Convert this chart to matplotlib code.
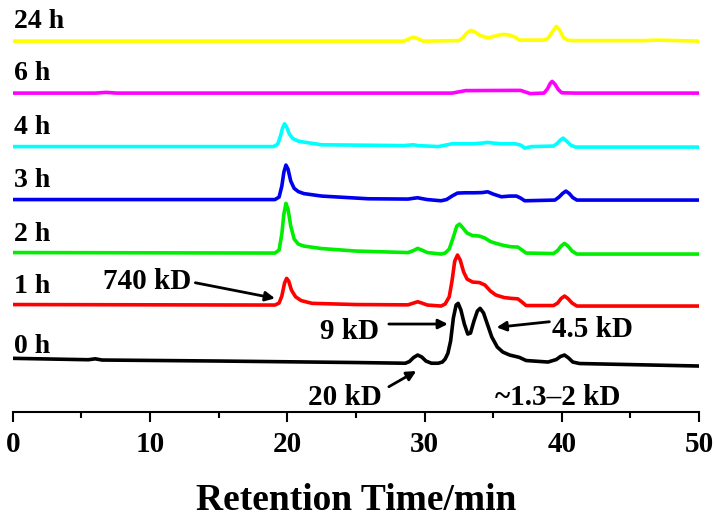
import matplotlib
matplotlib.use("Agg")
import matplotlib.pyplot as plt

# trace labels, colours and baseline offsets (stacked chromatograms)
labels = ["0 h", "1 h", "2 h", "3 h", "4 h", "6 h", "24 h"]
colors = ["#000000", "#ff0000", "#00ee00", "#0000ee", "#00ffff", "#ff00ff", "#ffff00"]
offsets = [46, 106, 158, 212, 265, 319, 371]

# retention time (min) and signal above baseline (a.u.)
t_0h = [0, 5.5, 6.0, 6.5, 15, 25, 28.6, 28.9, 29.2, 29.5, 29.8, 30.1, 30.5, 31.0,
        31.3, 31.5, 31.7, 31.9, 32.1, 32.3, 32.45, 32.65, 32.9, 33.15, 33.35,
        33.6, 33.85, 34.05, 34.3, 34.6, 34.9, 35.3, 35.7, 36.2, 36.9, 37.4,
        39.0, 39.6, 39.9, 40.2, 40.5, 40.8, 41.3, 50]
s_0h = [7.7, 6.3, 7.2, 6.0, 5.0, 3.5, 2.8, 4.5, 8.5, 11, 9, 5, 2.8, 2.8,
        4, 7, 12.7, 25, 48, 61, 62.7, 56, 42, 32, 33,
        45, 55, 57.7, 53, 41, 29, 19, 14, 11, 8.7, 5.5,
        4, 6.5, 9.5, 11, 8, 4, 2.5, 0]

t_1h = [0, 19.1, 19.4, 19.6, 19.8, 19.95, 20.1, 20.3, 20.6, 21.0, 21.8, 25,
        28.8, 29.2, 29.5, 29.8, 30.2, 31.2, 31.5, 31.8, 32.0, 32.2, 32.4, 32.6,
        32.85, 33.1, 33.5, 34.0, 34.4, 34.8, 35.2, 35.8, 36.3, 36.8, 37.1,
        37.4, 39.4, 39.7, 39.95, 40.2, 40.45, 40.75, 41.1, 50]
s_1h = [1.5, 1.0, 3, 10, 23, 27.7, 25, 16, 9.3, 5.5, 2.7, 1.5,
        1.2, 3, 4.3, 3, 1.0, 0, 2, 9.3, 25, 45, 51, 46,
        34, 27, 24, 23.5, 21, 15, 11, 8.5, 7.7, 7.2, 4,
        0.5, 0.5, 3, 7.5, 10, 7.5, 3, 0, 0]

t_2h = [0, 19.1, 19.4, 19.6, 19.75, 19.9, 20.05, 20.25, 20.5, 20.8, 21.2, 22.5,
        25, 28.8, 29.2, 29.5, 29.8, 30.2, 31.2, 31.5, 31.8, 32.1, 32.35, 32.55,
        32.8, 33.1, 33.5, 34.0, 34.4, 34.8, 35.2, 35.8, 36.3, 36.8, 37.1, 37.4,
        39.4, 39.7, 39.95, 40.2, 40.45, 40.75, 41.1, 50]
s_2h = [1.5, 1.0, 4, 20, 40, 50.7, 45, 28, 15, 10, 8, 5.5,
        3, 1.5, 3.5, 5.7, 4, 1.5, 0, 1, 5, 17, 28, 30,
        26, 21, 18.5, 18, 16, 12.5, 10.7, 8.5, 7.3, 7.0, 4,
        1.0, 0.5, 3.5, 8, 10.7, 8, 3, 0, 0]

t_3h = [0, 19.1, 19.4, 19.6, 19.75, 19.9, 20.05, 20.25, 20.5, 20.8, 21.2, 22.5,
        25.9, 28.8, 29.2, 29.5, 29.8, 30.2, 31.2, 31.6, 32.0, 32.4, 33.0, 33.6,
        34.2, 34.6, 35.0, 35.6, 36.2, 36.7, 37.0, 37.3, 39.5, 39.8, 40.05,
        40.3, 40.55, 40.8, 41.1, 50]
s_3h = [0.5, 0.5, 3, 14, 28, 35, 31, 19, 11.7, 8.5, 6.5, 4,
        1.3, 1.0, 1.8, 2.3, 1.5, 0.5, -0.7, 0.5, 4, 7, 7.3, 7.3,
        7.5, 8.3, 6, 3.3, 4, 4, 2, -0.7, 0, 3, 6.5,
        9, 6.5, 2.5, 0, 0]

t_4h = [0, 19.0, 19.3, 19.5, 19.65, 19.8, 19.95, 20.15, 20.4, 20.8, 21.2, 22.5,
        28.5, 28.9, 29.2, 29.5, 31.0, 32.0, 33.5, 34.2, 34.6, 35.0, 35.6, 36.6,
        37.0, 37.3, 37.8, 39.4, 39.65, 39.9, 40.1, 40.35, 40.65, 41.0, 50]
s_4h = [0.5, 0.5, 3, 11, 19, 23.3, 20, 13, 8.5, 6, 5, 2.3,
        1.5, 2, 2.3, 1.5, 0.5, 3.3, 3.3, 4.0, 4.7, 4.0, 3.3, 3.3,
        2, -1, 0.5, 1, 3.5, 7, 9, 6, 2, 0, 0]

t_6h = [0, 6.0, 6.8, 7.6, 20, 30, 32, 33, 36.5, 37.0, 37.7, 38.7, 38.95, 39.15,
        39.3, 39.5, 39.75, 40.0, 41.0, 50]
s_6h = [0, 0, 0.7, 0, 0, 0, 0, 2.5, 2.7, 2.7, -0.5, 0, 4, 9.5,
        11.7, 9, 3.5, 0.3, 0, 0]

t_24h = [0, 15, 28.5, 28.9, 29.2, 29.5, 29.9, 32.5, 32.8, 33.1, 33.4, 33.7,
         34.0, 34.3, 34.65, 35.0, 35.4, 35.76, 36.2, 36.6, 36.9, 38.7, 39.0,
         39.3, 39.6, 39.85, 40.1, 40.4, 40.7, 46, 47, 50]
s_24h = [0, 0, 0, 2.5, 4, 2.5, 0, 0.5, 3.5, 8.5, 10.7, 9,
         6, 4.5, 3.3, 4.5, 6, 6.7, 6, 4, 1, 1, 3,
         9, 14.7, 11, 4, 1, 0.5, 0.5, 1, 0]

times = [t_0h, t_1h, t_2h, t_3h, t_4h, t_6h, t_24h]
signals = [s_0h, s_1h, s_2h, s_3h, s_4h, s_6h, s_24h]

font = "Liberation Serif"

fig = plt.figure(figsize=(7.14, 5.18), dpi=100)
ax = fig.add_axes([0.018, 0.2046, 0.961, 0.772])

for t, s, off, c, lab in zip(times, signals, offsets, colors, labels):
    ax.plot(t, [v + off for v in s], color=c, lw=2.6, solid_joinstyle="round")
    ax.text(0.05, off + 13, lab, family=font, weight="bold", fontsize=20,
            ha="left", va="baseline")

# peak annotations
arrow = dict(arrowstyle="-|>", color="black", lw=2, mutation_scale=14,
             shrinkA=0, shrinkB=0)
ax.annotate("", xy=(19.1, 113.7), xytext=(13.3, 129.3), arrowprops=arrow)
ax.text(6.6, 122.7, "740 kD", family=font, weight="bold", fontsize=21,
        ha="left", va="baseline")
ax.annotate("", xy=(31.7, 88), xytext=(27.4, 88), arrowprops=arrow)
ax.text(22.35, 72.7, "9 kD", family=font, weight="bold", fontsize=21,
        ha="left", va="baseline")
ax.annotate("", xy=(35.25, 84.7), xytext=(39.1, 90.3), arrowprops=arrow)
ax.text(39.3, 75.3, "4.5 kD", family=font, weight="bold", fontsize=21,
        ha="left", va="baseline")
ax.annotate("", xy=(29.4, 41), xytext=(27.4, 25.3), arrowprops=arrow)
ax.text(21.5, 7, "20 kD", family=font, weight="bold", fontsize=21,
        ha="left", va="baseline")
ax.text(35.1, 7, "~1.3\u20132 kD", family=font, weight="bold", fontsize=21,
        ha="left", va="baseline")

ax.set_xlim(0, 50)
ax.set_ylim(0, 400)
for side in ["left", "top", "right"]:
    ax.spines[side].set_visible(False)
ax.spines["bottom"].set_linewidth(1.5)
ax.set_yticks([])
ax.set_xticks([0, 10, 20, 30, 40, 50])
ax.set_xticks([5, 15, 25, 35, 45], minor=True)
ax.tick_params(axis="x", which="major", direction="out", length=7.5, width=1.5,
               pad=6, labelsize=21)
ax.tick_params(axis="x", which="minor", direction="out", length=4, width=1.5)
for lbl in ax.get_xticklabels():
    lbl.set_family(font)
    lbl.set_weight("bold")
ax.set_xlabel("Retention Time/min", family=font, weight="bold", fontsize=27,
              labelpad=18)

fig.savefig("out.png", dpi=100)
